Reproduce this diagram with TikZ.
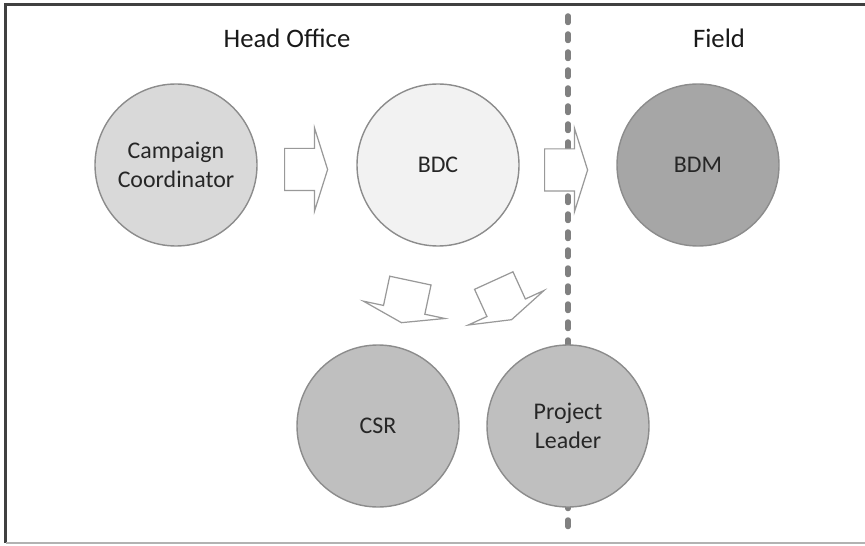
\documentclass[tikz,border=0pt]{standalone}
\usepackage{fontspec}
\setmainfont{Carlito}
\usepackage{tikz}
\usetikzlibrary{shapes.arrows}

\begin{document}
\begin{tikzpicture}[
    role/.style={circle, draw=gray!90, line width=0.8pt, minimum size=3.24cm, inner sep=0pt, align=center, text=black!85, font=\fontsize{13.6}{16.5}\selectfont},
    flow/.style={single arrow, draw=gray!80, fill=white, line width=0.7pt, minimum height=0.86cm, minimum width=0pt, inner xsep=0pt, inner ysep=0.41cm, single arrow head extend=0.41cm, single arrow tip angle=145, anchor=tail},
    side/.style={font=\fontsize{15.2}{18}\selectfont, text=black!90}
]
    \useasboundingbox (0,0) rectangle (17.3,-10.92);
    \draw[black!75, line width=0.06cm] (0.12,-10.86) -- (0.12,-0.1) -- (17.3,-0.1);
    \draw[gray!60, line width=0.03cm] (0.12,-10.86) -- (17.3,-10.86);
    \node[side] (ho) at (5.74,-0.76) {Head Office};
    \node[side] (fd) at (14.38,-0.76) {Field};
    \coordinate (top) at (11.36,-0.32);
    \coordinate (bot) at (11.36,-10.56);
    \draw[gray, line width=0.11cm, line cap=round, dash pattern=on 0.13cm off 0.23cm] (top) -- (bot);
    \node[role, fill=gray!30] (cc) at (3.52,-3.30) {Campaign\\Coordinator};
    \node[role, fill=gray!10] (bdc) at (8.76,-3.30) {BDC};
    \node[role, fill=gray!70] (bdm) at (13.96,-3.30) {BDM};
    \node[role, fill=gray!50] (csr) at (7.56,-8.52) {CSR};
    \node[role, fill=gray!50] (pl) at (11.36,-8.52) {Project\\Leader};
    \node[flow] (toBdc) at (5.68,-3.39) {};
    \node[flow] (toBdm) at (10.88,-3.40) {};
    \node[flow, rotate=258] (toCsr) at (8.21,-5.60) {};
    \node[flow, rotate=294.5] (toPl) at (9.87,-5.60) {};
\end{tikzpicture}
\end{document}
